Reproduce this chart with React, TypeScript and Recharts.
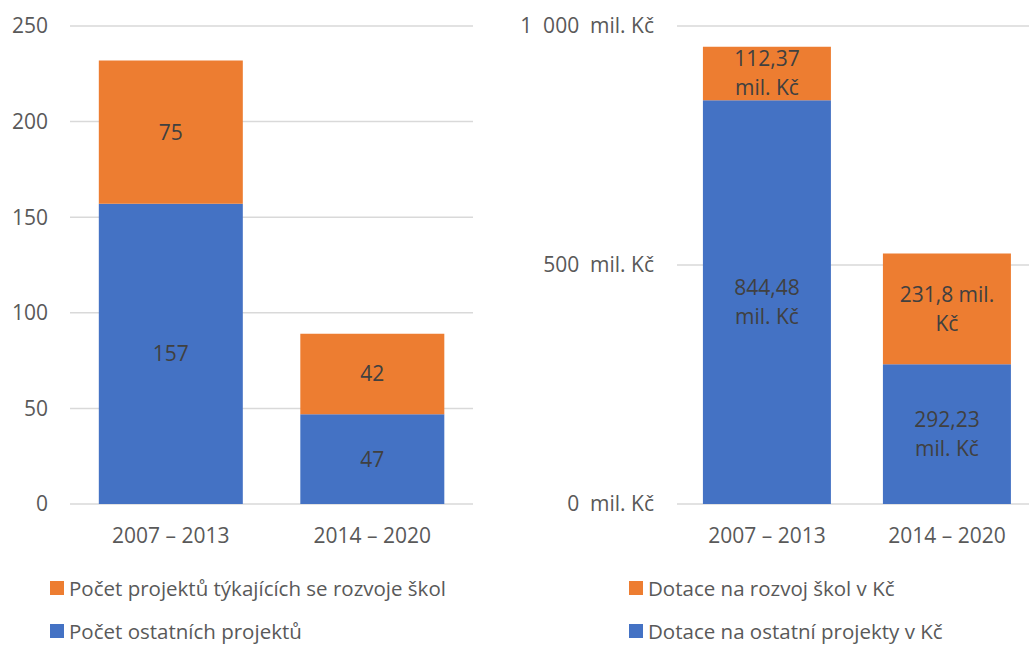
import { Bar, BarChart, CartesianGrid, LabelList, XAxis, YAxis } from "recharts";

const periods = ["2007 – 2013", "2014 – 2020"];
const otherProjects = [157, 47];
const schoolProjects = [75, 42];
const otherGrants = [844.48, 292.23];
const schoolGrants = [112.37, 231.8];
const countTicks = [0, 50, 100, 150, 200, 250];
const moneyTicks = [0, 500, 1000];

const BLUE = "#4472C4";
const ORANGE = "#ED7D31";
const AXIS_TEXT = "#595959";
const LABEL_TEXT = "#404040";
const GRID = "#d9d9d9";
const FONT = "'Open Sans', sans-serif";
const FS = 21;

const countData = periods.map((p, i) => ({
  period: p,
  other: otherProjects[i],
  school: schoolProjects[i],
}));
const moneyData = periods.map((p, i) => ({
  period: p,
  other: otherGrants[i],
  school: schoolGrants[i],
}));

// the source uses a wide gap as thousands separator
function fmtThousands(v: number) {
  return String(v).replace(/\B(?=(\d{3})+(?!\d))/g, "  ");
}

function fmtDecimal(v: number) {
  return String(v).replace(".", ",");
}

// Excel-like wrap of "xxx,xx mil. Kč" into lines of at most 10 chars
function wrap(text: string, max = 10) {
  const lines: string[] = [];
  let cur = "";
  for (const w of text.split(" ")) {
    const next = cur ? cur + " " + w : w;
    if (next.length > max && cur) {
      lines.push(cur);
      cur = w;
    } else cur = next;
  }
  if (cur) lines.push(cur);
  return lines;
}

function MoneyLabel(props: any) {
  const { x, y, width, height, value } = props;
  const lines = wrap(`${fmtDecimal(value)} mil. Kč`);
  const lh = 29;
  const cx = x + width / 2;
  const cy = y + height / 2;
  const top = cy - ((lines.length - 1) * lh) / 2;
  return (
    <text
      textAnchor="middle"
      fill={LABEL_TEXT}
      fontSize={FS}
      fontFamily={FONT}
    >
      {lines.map((l, i) => (
        <tspan key={i} x={cx} y={top + i * lh} dy="0.355em">
          {l}
        </tspan>
      ))}
    </text>
  );
}

function MoneyTick(props: any) {
  const { x, y, payload } = props;
  return (
    <text
      x={x}
      y={y}
      dy="0.355em"
      textAnchor="end"
      fill={AXIS_TEXT}
      fontSize={FS}
      fontFamily={FONT}
      xmlSpace="preserve"
      style={{ whiteSpace: "pre" }}
    >
      {`${fmtThousands(payload.value)}  mil. Kč`}
    </text>
  );
}

const tickStyle = { fill: AXIS_TEXT, fontSize: FS, fontFamily: FONT };

function LegendRow({
  left,
  top,
  color,
  label,
}: {
  left: number;
  top: number;
  color: string;
  label: string;
}) {
  return (
    <div
      style={{
        position: "absolute",
        left,
        top,
        display: "flex",
        alignItems: "center",
        fontFamily: FONT,
        fontSize: 20.5,
        color: AXIS_TEXT,
        whiteSpace: "nowrap",
        lineHeight: "22px",
        height: 22,
      }}
    >
      <span
        style={{
          display: "inline-block",
          width: 14,
          height: 14,
          background: color,
          marginRight: 5,
        }}
      />
      {label}
    </div>
  );
}

export default function App() {
  return (
    <div
      style={{
        position: "absolute",
        left: 0,
        top: 0,
        width: 1029,
        height: 646,
        overflow: "hidden",
        background: "#fff",
      }}
    >
      <div style={{ position: "absolute", left: 0, top: 0 }}>
        <BarChart
          width={490}
          height={560}
          data={countData}
          margin={{ top: 26, right: 17, bottom: 0, left: 0 }}
          barCategoryGap="14.3%"
        >
          <CartesianGrid stroke={GRID} strokeWidth={1.5} vertical={false} />
          <XAxis
            dataKey="period"
            axisLine={false}
            tickLine={false}
            tick={tickStyle}
            tickMargin={18}
            height={56}
          />
          <YAxis
            domain={[0, 250]}
            ticks={countTicks}
            axisLine={false}
            tickLine={false}
            tick={tickStyle}
            tickMargin={16}
            width={70}
          />
          <Bar dataKey="other" stackId="a" fill={BLUE} isAnimationActive={false}>
            <LabelList
              dataKey="other"
              position="center"
              fill={LABEL_TEXT}
              fontSize={FS}
              fontFamily={FONT}
            />
          </Bar>
          <Bar dataKey="school" stackId="a" fill={ORANGE} isAnimationActive={false}>
            <LabelList
              dataKey="school"
              position="center"
              fill={LABEL_TEXT}
              fontSize={FS}
              fontFamily={FONT}
            />
          </Bar>
        </BarChart>
      </div>

      <div style={{ position: "absolute", left: 510, top: 0 }}>
        <BarChart
          width={540}
          height={560}
          data={moneyData}
          margin={{ top: 26, right: 13, bottom: 0, left: 0 }}
          barCategoryGap="14.4%"
        >
          <CartesianGrid stroke={GRID} strokeWidth={1.5} vertical={false} />
          <XAxis
            dataKey="period"
            axisLine={false}
            tickLine={false}
            tick={tickStyle}
            tickMargin={18}
            height={56}
          />
          <YAxis
            domain={[0, 1000]}
            ticks={moneyTicks}
            axisLine={false}
            tickLine={false}
            tick={<MoneyTick />}
            tickMargin={17}
            width={167}
          />
          <Bar dataKey="other" stackId="b" fill={BLUE} isAnimationActive={false}>
            <LabelList dataKey="other" content={<MoneyLabel />} />
          </Bar>
          <Bar dataKey="school" stackId="b" fill={ORANGE} isAnimationActive={false}>
            <LabelList dataKey="school" content={<MoneyLabel />} />
          </Bar>
        </BarChart>
      </div>

      <LegendRow left={50} top={577} color={ORANGE} label="Počet projektů týkajících se rozvoje škol" />
      <LegendRow left={50} top={620} color={BLUE} label="Počet ostatních projektů" />
      <LegendRow left={629} top={577} color={ORANGE} label="Dotace na rozvoj škol v Kč" />
      <LegendRow left={629} top={620} color={BLUE} label="Dotace na ostatní projekty v Kč" />
    </div>
  );
}
